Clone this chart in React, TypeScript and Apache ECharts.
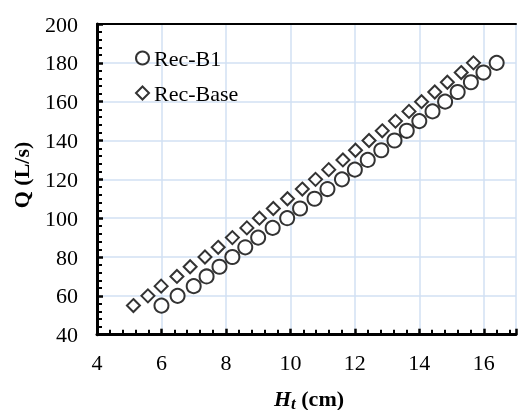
import React, { useEffect, useRef } from "react";
import * as echarts from "echarts";

const seriesNames = ["Rec-B1", "Rec-Base"];
const qB1 = [55, 60, 65, 70, 75, 80, 85, 90, 95, 100, 105, 110, 115, 120, 125, 130, 135, 140, 145, 150, 155, 160, 165, 170, 175, 180];
const hB1 = [6.0, 6.5, 7.0, 7.4, 7.8, 8.2, 8.6, 9.0, 9.45, 9.9, 10.3, 10.75, 11.15, 11.6, 12.0, 12.4, 12.82, 13.23, 13.61, 14.0, 14.41, 14.8, 15.19, 15.6, 15.99, 16.4];
const qBase = [55, 60, 65, 70, 75, 80, 85, 90, 95, 100, 105, 110, 115, 120, 125, 130, 135, 140, 145, 150, 155, 160, 165, 170, 175, 180];
const hBase = [5.13, 5.58, 5.99, 6.48, 6.89, 7.35, 7.76, 8.2, 8.65, 9.04, 9.47, 9.91, 10.37, 10.78, 11.19, 11.63, 12.02, 12.44, 12.85, 13.26, 13.68, 14.07, 14.48, 14.87, 15.3, 15.68];
const yTitle = "Q (L/s)";
const X_MIN = 4;
const X_MAX = 17;
const Y_MIN = 40;
const Y_MAX = 200;

const FONT = "Liberation Serif";

export default function App() {
  const ref = useRef<HTMLDivElement>(null);
  useEffect(() => {
    if (!ref.current) return;
    const chart = echarts.init(ref.current, null, { renderer: "svg" });
    chart.setOption({
      animation: false,
      grid: { left: 97, top: 24, width: 423.5, height: 310.7 },
      legend: {
        orient: "vertical",
        left: 130,
        top: 42,
        itemGap: 13,
        itemWidth: 13,
        itemHeight: 13,
        textStyle: { fontFamily: FONT, fontSize: 22, color: "#000" },
        data: seriesNames,
      },
      graphic: [
        {
          type: "text",
          x: 21,
          y: 175,
          rotation: Math.PI / 2,
          style: { text: yTitle, fontFamily: FONT, fontSize: 22, fontWeight: "bold", fill: "#000", align: "center", verticalAlign: "middle" },
        },
        {
          type: "text",
          x: 309,
          y: 398,
          style: {
            text: "{h|H}{s|t}{n| (cm)}",
            align: "center",
            verticalAlign: "middle",
            rich: {
              h: { fontFamily: FONT, fontSize: 22, fontWeight: "bold", fontStyle: "italic", fill: "#000" },
              s: { fontFamily: FONT, fontSize: 17, fontWeight: "bold", fontStyle: "italic", fill: "#000", padding: [10, 0, 0, 0] },
              n: { fontFamily: FONT, fontSize: 22, fontWeight: "bold", fill: "#000" },
            },
          },
        },
      ],
      xAxis: [
        {
          type: "value",
          min: X_MIN,
          max: X_MAX,
          interval: 2,
          gridIndex: 0,
          position: "bottom",
          axisLine: { show: true, onZero: false, lineStyle: { color: "#000", width: 3 } },
          axisTick: { show: true, inside: true, length: 6, lineStyle: { color: "#000", width: 2.5 } },
          minorTick: { show: true, splitNumber: 5, length: 5, lineStyle: { color: "#000", width: 2 } },
          splitLine: { show: true, lineStyle: { color: "#d2e0f3", width: 1.5 } },
          axisLabel: {
            margin: 17,
            fontFamily: FONT,
            fontSize: 22,
            color: "#000",
            formatter: (v: number) => (v % 2 === 0 ? String(v) : ""),
          },
        },
        {
          type: "value",
          min: X_MIN,
          max: X_MAX,
          interval: 2,
          gridIndex: 0,
          position: "top",
          axisLine: { show: true, onZero: false, lineStyle: { color: "#000", width: 2 } },
          axisTick: { show: false },
          axisLabel: { show: false },
          splitLine: { show: false },
        },
      ],
      yAxis: [
        {
          type: "value",
          min: Y_MIN,
          max: Y_MAX,
          interval: 20,
          gridIndex: 0,
          position: "left",
          axisLine: { show: true, onZero: false, lineStyle: { color: "#000", width: 3 } },
          axisTick: { show: true, inside: true, length: 6, lineStyle: { color: "#000", width: 2.5 } },
          minorTick: { show: true, splitNumber: 5, length: 5, lineStyle: { color: "#000", width: 2 } },
          splitLine: { show: true, lineStyle: { color: "#d2e0f3", width: 1.5 } },
          axisLabel: { margin: 19, fontFamily: FONT, fontSize: 22, color: "#000" },
        },
      ],
      series: [
        {
          name: seriesNames[0],
          type: "scatter",
          xAxisIndex: 0,
          symbol: "circle",
          symbolSize: 14,
          itemStyle: { color: "#fff", borderColor: "#000", borderWidth: 2 },
          data: hB1.map((h, i) => [h, qB1[i]]),
        },
        {
          name: seriesNames[1],
          type: "scatter",
          xAxisIndex: 0,
          symbol: "diamond",
          symbolSize: 13,
          itemStyle: { color: "#fff", borderColor: "#000", borderWidth: 2 },
          data: hBase.map((h, i) => [h, qBase[i]]),
        },
      ],
    });
    return () => chart.dispose();
  }, []);
  return <div ref={ref} style={{ position: "fixed", left: 0, top: 0, width: 519, height: 410 }} />;
}
